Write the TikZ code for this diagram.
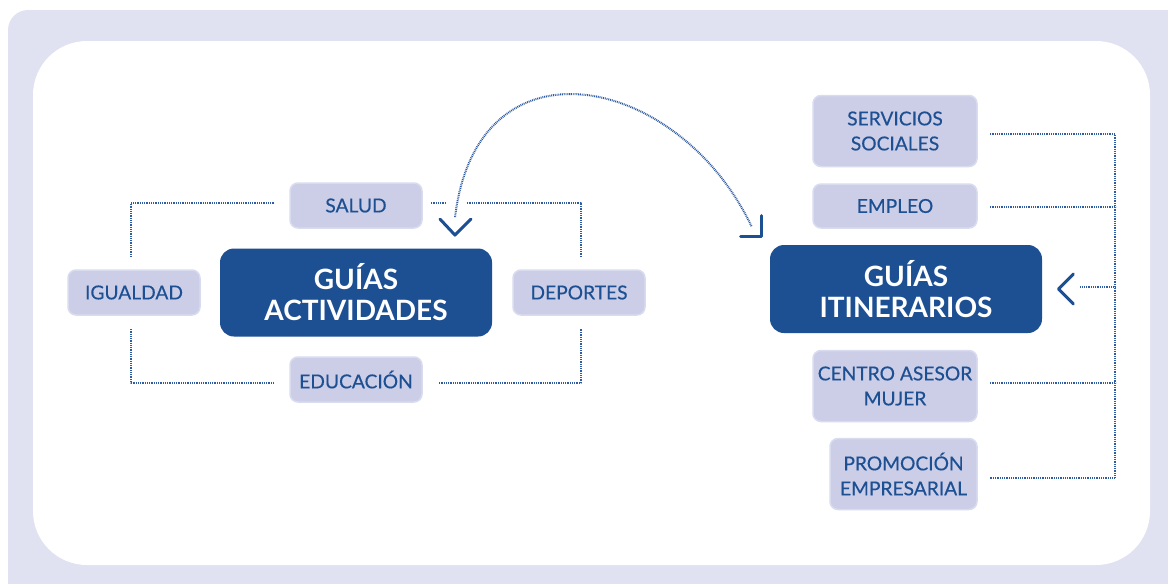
\documentclass[tikz,border=0pt]{standalone}
\usepackage{fontspec}
\setmainfont{Lato}
\newfontfamily\topicfont{Lato}[FakeBold=0.35]
\definecolor{framebg}{HTML}{E0E2F1}
\definecolor{boxfill}{HTML}{CBCEE6}
\definecolor{boxline}{HTML}{D9DBEF}
\definecolor{guideblue}{HTML}{1D4F93}
\definecolor{dotblue}{HTML}{2E5CA2}
\begin{document}
\begin{tikzpicture}[
		x=0.5pt,
		y=-0.5pt,
		line join=round,
		topic/.style={fill=boxfill, draw=boxline, line width=0.75pt, rounded corners=4pt,
			text=guideblue, font=\fontsize{9.6}{12.5}\topicfont, align=center, inner sep=0pt},
		guide/.style={fill=guideblue, rounded corners=7pt, text=white,
			font=\fontsize{14}{15.5}\selectfont\bfseries, align=center, inner sep=0pt,
			minimum width=136pt, minimum height=44pt},
		link/.style={draw=dotblue, line width=1pt, dash pattern=on 0.45pt off 0.45pt},
		chevron/.style={draw=guideblue, line width=1.5pt, line cap=round}
	]
	\useasboundingbox (0,0) rectangle (1168,584);

	% Frame
	\fill[framebg, rounded corners=10pt] (8,10) rectangle (1200,620);
	\fill[white, rounded corners=27pt] (33,41) rectangle (1150,565);

	% Guias actividades
	\node[guide] (actividades) at (356,292.5) {GUÍAS\\ACTIVIDADES};
	\node[topic, minimum width=66pt, minimum height=22.5pt] (salud) at (356,205.5) {SALUD};
	\node[topic, minimum width=66pt, minimum height=22.5pt] (igualdad) at (134,292.5) {IGUALDAD};
	\node[topic, minimum width=66pt, minimum height=22.5pt] (deportes) at (579,292.5) {DEPORTES};
	\node[topic, minimum width=66pt, minimum height=22.5pt] (educacion) at (356,379.5) {EDUCACIÓN};

	\draw[link] ([xshift=-7.5pt,yshift=1.25pt]salud.west) -| ([xshift=-1.5pt,yshift=6pt]igualdad.north);
	\draw[link] ([xshift=4pt,yshift=1.25pt]salud.east) -- ++(8pt,0);
	\draw[link] ([xshift=22pt,yshift=1.25pt]salud.east) -| ([xshift=1pt,yshift=6pt]deportes.north);
	\draw[link] ([xshift=-1.5pt,yshift=-6.5pt]igualdad.south) |- ([xshift=-7.5pt,yshift=-1.75pt]educacion.west);
	\draw[link] ([xshift=8pt,yshift=-1.75pt]educacion.east) -| ([xshift=1pt,yshift=-6.5pt]deportes.south);

	% Guias itinerarios
	\node[guide] (itinerarios) at (906,289) {GUÍAS\\ITINERARIOS};
	\node[topic, minimum width=82pt, minimum height=35.5pt] (servicios) at (895,131) {SERVICIOS\\SOCIALES};
	\node[topic, minimum width=82pt, minimum height=22pt] (empleo) at (895,206) {EMPLEO};
	\node[topic, minimum width=82pt, minimum height=35.5pt] (centro) at (895,386) {CENTRO ASESOR\\MUJER};
	\node[topic, minimum width=73.5pt, minimum height=35.5pt] (promocion) at (903.5,474) {PROMOCIÓN\\EMPRESARIAL};

	\coordinate (bus top) at (1115,134);
	\coordinate (bus bottom) at (1115,478);
	\draw[link] ([xshift=6pt,yshift=-1.5pt]servicios.east) -- (bus top) -- (bus bottom)
		-- ([xshift=6pt,yshift=-2pt]promocion.east);
	\draw[link] ([xshift=6pt,yshift=-0.5pt]empleo.east) -- ++(63pt,0);
	\draw[link] ([xshift=6pt,yshift=1.5pt]centro.east) -- ++(63pt,0);
	\draw[link] ([xshift=19pt,yshift=1pt]itinerarios.east) -- ++(17.5pt,0);
	\draw[chevron] ([xshift=15.5pt,yshift=7.5pt]itinerarios.east) -- ++(-7.5pt,-7.5pt) -- ++(7.5pt,-7.5pt);

	% Link between both guides
	\draw[link] ([xshift=49.5pt,yshift=15.5pt]actividades.north) .. controls (478,30) and (680,75)
		.. ([shift={(-9pt,9pt)}]itinerarios.north west);
	\draw[chevron] ([xshift=42pt,yshift=14.5pt]actividades.north) -- ++(7.5pt,-8pt) -- ++(8pt,8pt);
	\draw[chevron] ([xshift=-4pt,yshift=14.5pt]itinerarios.north west) -- ++(0,-10.5pt) -- ++(-10.5pt,0);
\end{tikzpicture}
\end{document}
